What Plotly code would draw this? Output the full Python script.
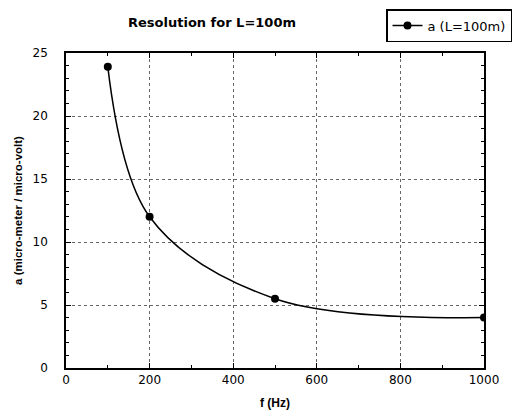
import plotly.graph_objects as go

freq_hz = [100, 200, 500, 1000]
resolution_a = [23.9, 12.0, 5.5, 4.0]
series_name = "a (L=100m)"
x_ticks = [0, 200, 400, 600, 800, 1000]
y_ticks = [0, 5, 10, 15, 20, 25]

FONT = "DejaVu Sans, Liberation Sans, Arial"

fig = go.Figure()
fig.add_trace(go.Scatter(
    x=freq_hz, y=resolution_a, name=series_name,
    mode="lines+markers",
    line=dict(color="black", width=1.5, shape="spline", smoothing=1.0),
    marker=dict(color="black", size=8, symbol="circle"),
))

axis_common = dict(
    showline=True, linecolor="black", linewidth=1.5, mirror="allticks",
    ticks="inside", ticklen=5, tickcolor="black",
    showgrid=True, gridcolor="rgba(0,0,0,0.6)", griddash="dot", gridwidth=1,
    zeroline=False, automargin=False,
    tickfont=dict(family=FONT, size=12, color="black"),
)

fig.update_xaxes(
    range=[0, 1000], tickvals=x_ticks,
    minor=dict(dtick=100, ticks="inside", ticklen=3, tickcolor="black", showgrid=False),
    title=dict(text="<b>f (Hz)</b>", font=dict(family="Liberation Sans, Arial", size=12, color="black"), standoff=12),
    ticklabelstandoff=0,
    **axis_common,
)
fig.update_yaxes(
    range=[0, 25], tickvals=y_ticks,
    minor=dict(dtick=1, ticks="inside", ticklen=3, tickcolor="black", showgrid=False),
    title=dict(text="<b>a (micro-meter / micro-volt)</b>", font=dict(family="Liberation Sans, Arial", size=11.5, color="black"), standoff=8),
    ticklabelstandoff=14,
    **axis_common,
)

fig.update_layout(
    width=516, height=414,
    margin=dict(l=66, r=32, t=53, b=46, autoexpand=False),
    paper_bgcolor="white", plot_bgcolor="white",
    title=dict(text="<b>Resolution for L=100m</b>", x=212/516, xanchor="center", y=1 - 22/414, yanchor="middle",
               font=dict(family=FONT, size=13, color="black")),
    showlegend=True,
    legend=dict(x=(512 - 66) / 418, xanchor="right", y=(368 - 9) / 315, yanchor="top",
                bordercolor="black", borderwidth=1.5, bgcolor="white",
                font=dict(family=FONT, size=13, color="black")),
)

fig.write_html("out.html", config={"displayModeBar": False},
               post_script="document.body.style.margin='0px';")
